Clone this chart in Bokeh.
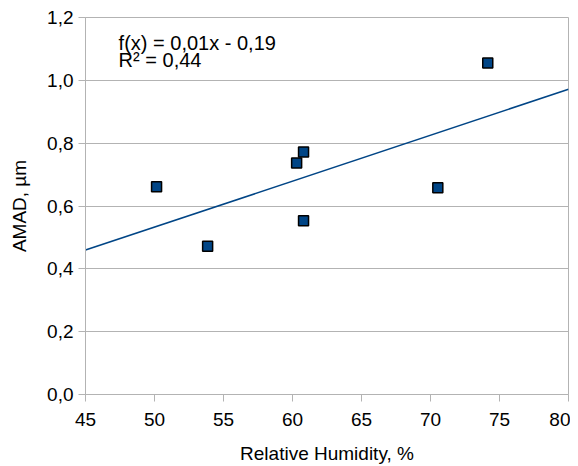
import numpy as np
from bokeh.plotting import figure
from bokeh.models import FixedTicker, Label, Range1d
from bokeh.embed import file_html
from bokeh.resources import INLINE

# Data
humidity = [50.15, 53.85, 60.3, 60.8, 60.8, 70.53, 74.15]
amad = [0.661, 0.472, 0.737, 0.772, 0.553, 0.658, 1.055]

x_ticks = [45, 50, 55, 60, 65, 70, 75, 80]
y_ticks = [0.0, 0.2, 0.4, 0.6, 0.8, 1.0, 1.2]
y_tick_labels = ["0,0", "0,2", "0,4", "0,6", "0,8", "1,0", "1,2"]

eq_text = "f(x) = 0,01x - 0,19"
r2_text = "R² = 0,44"

FONT = "Liberation Sans"
GRID = "#b3b3b3"
BLUE = "#004586"

p = figure(width=570, height=466, output_backend="svg", toolbar_location=None,
           x_range=Range1d(45, 80), y_range=Range1d(0, 1.2),
           min_border_left=85, min_border_right=2, min_border_top=17, min_border_bottom=70)

p.background_fill_color = "white"
p.border_fill_color = "white"
p.outline_line_color = GRID
p.outline_line_width = 1

# Trend line from least squares on the data
slope, intercept = np.polyfit(humidity, amad, 1)
xs = [45, 80]
p.line(xs, [slope * x + intercept for x in xs], line_color=BLUE, line_width=1.6)

p.scatter(humidity, amad, marker="square", size=10, fill_color=BLUE,
          line_color="black", line_width=1.5)

p.xaxis.ticker = FixedTicker(ticks=x_ticks)
p.yaxis.ticker = FixedTicker(ticks=y_ticks)
p.yaxis.major_label_overrides = {t: l for t, l in zip(y_ticks, y_tick_labels)}

for ax in (p.xaxis, p.yaxis):
    ax.axis_line_color = GRID
    ax.major_tick_line_color = GRID
    ax.major_tick_in = 0
    ax.major_tick_out = 7
    ax.minor_tick_line_color = None
    ax.major_label_text_font = FONT
    ax.major_label_text_font_size = "19px"
    ax.major_label_text_color = "black"
    ax.axis_label_text_font = FONT
    ax.axis_label_text_font_size = "19px"
    ax.axis_label_text_font_style = "normal"
    ax.axis_label_text_color = "black"

p.xaxis.axis_label = "Relative Humidity, %"
p.yaxis.axis_label = "AMAD, µm"
p.xaxis.major_label_standoff = 11
p.yaxis.major_label_standoff = 5
p.xaxis.axis_label_standoff = 14
p.yaxis.axis_label_standoff = 14

p.xgrid.grid_line_color = None
p.ygrid.grid_line_color = GRID
p.ygrid.grid_line_width = 1

p.add_layout(Label(x=47.4, y=1.118, text=eq_text, text_font=FONT,
                   text_font_size="20px", text_baseline="alphabetic", text_color="black"))
p.add_layout(Label(x=47.4, y=1.064, text=r2_text, text_font=FONT,
                   text_font_size="20px", text_baseline="alphabetic", text_color="black"))

open("out.html", "w").write(file_html(p, INLINE))
